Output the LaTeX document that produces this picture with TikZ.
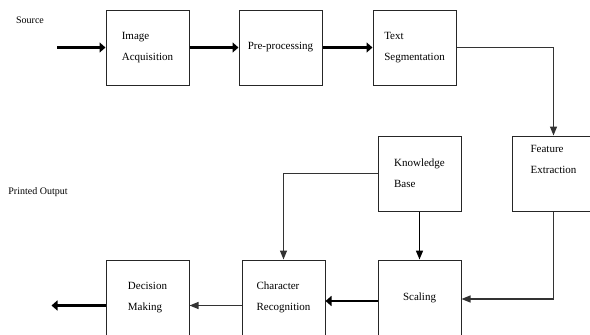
\documentclass[tikz,border=0pt]{standalone}
\usepackage{fontspec}
\setmainfont{Liberation Serif}
\usepackage{tikz}
\usetikzlibrary{arrows.meta, positioning}

\begin{document}
\begin{tikzpicture}[
  x=1pt, y=-1pt,
  blk/.style={draw=black!85, line width=1pt, minimum width=83pt, minimum height=75pt,
    align=left, inner sep=2pt, font=\fontsize{11}{21}\selectfont},
  lbl/.style={font=\fontsize{10}{12}\selectfont},
  thk/.style={-{Triangle[length=6pt,width=10pt]}, line width=2.6pt},
  thn/.style={-{Triangle[length=9pt,width=7pt]}, line width=1.2pt, black!80},
]
\useasboundingbox (0,0) rectangle (590,335);

% top row
\node[blk] (acq) at (147.5,47.5) {Image\\Acquisition};
\node[blk, right=49pt of acq] (pre) {Pre-processing};
\node[blk, right=50pt of pre] (seg) {Text\\Segmentation};

% second row
\node[blk] (kb) at (419.5,173.5) {Knowledge\\Base};
\node[blk, right=50pt of kb, text depth=28pt] (fe) {Feature\\Extraction};

% bottom row
\node[blk, below=48pt of kb] (scl) {Scaling};
\node[blk, left=52pt of scl] (cr) {Character\\Recognition};
\node[blk, left=52pt of cr] (dm) {Decision\\Making};

% outside labels
\node[lbl] (srclbl) at (30,20) {Source};
\node[lbl] (outlbl) at (38,192) {Printed Output};
\coordinate (src) at (57,47.5);
\coordinate (out) at ([xshift=-54pt,yshift=-8pt]dm.west);

\draw[thk] (src) -- (acq);
\draw[thk] (acq) -- (pre);
\draw[thk] (pre) -- (seg);
\draw[thn] (seg.east) -| (fe.north);
\draw[thn] (fe.south) |- ([yshift=-1.5pt]scl.east);
\draw[thn, black, line width=1.6pt] (kb) -- (scl);
\draw[thn] (kb.west) -| (cr.north);
\draw[thk] ([yshift=-3.5pt]scl.west) -- ([yshift=-3.5pt]cr.east);
\draw[thn] ([yshift=-8pt]cr.west) -- ([yshift=-8pt]dm.east);
\draw[thk] ([yshift=-8pt]dm.west) -- (out);

\end{tikzpicture}
\end{document}
